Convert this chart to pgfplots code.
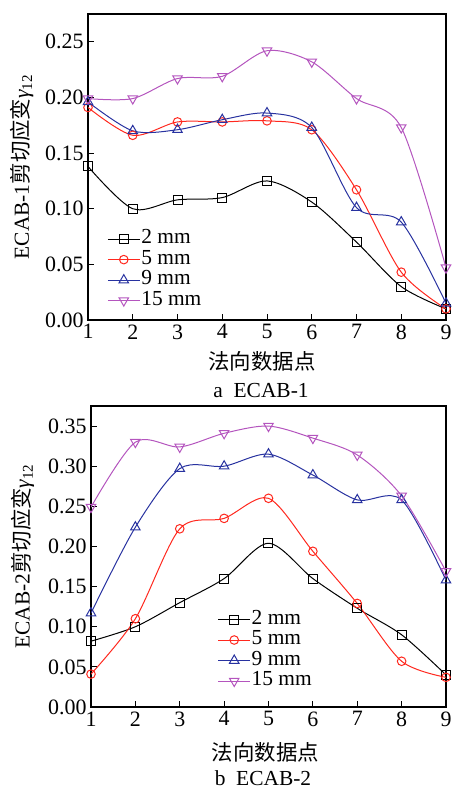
\documentclass[border=0pt]{standalone}
\usepackage{fontspec}
\setmainfont{Liberation Serif}
\newfontfamily\cjk{Noto Sans CJK SC}
\usepackage{pgfplots}
\pgfplotsset{compat=1.18}
\definecolor{cred}{RGB}{255,40,30}
\definecolor{cblue}{RGB}{40,50,160}
\definecolor{cpurp}{RGB}{180,85,190}
\newcommand{\bigf}{\fontsize{21.5}{25}\selectfont}
\newcommand{\tickf}{\fontsize{22}{25}\selectfont}
\pgfplotsset{myax/.style={
  scale only axis, xmin=1, xmax=9, ymin=0, xtick={1,2,...,9},
  tick align=inside, xtick pos=bottom, ytick pos=left, major tick length=6bp,
  axis line style={line width=1.2bp},
  every tick/.style={black, line width=1bp},
  tick label style={font=\tickf},
  xticklabel style={yshift=-1bp},
  label style={font=\bigf},
  /pgf/number format/assume math mode=true,
  yticklabel style={/pgf/number format/fixed, /pgf/number format/fixed zerofill, /pgf/number format/precision=2, xshift=-1bp},
  xlabel={\cjk 法向数据点},
  legend style={draw=none, fill=none, font=\bigf, anchor=north west, legend cell align=left,
    nodes={inner sep=1bp, text height=14bp, text depth=4.5bp}, row sep=0pt},
  legend image code/.code={\draw[mark repeat=2,mark phase=2] plot coordinates {(0bp,0bp) (16bp,0bp) (32bp,0bp)};},
  every axis plot/.append style={smooth, line width=1bp, mark options={fill=white, solid}},
}}
\begin{document}
\begin{tikzpicture}
\useasboundingbox (0,0) rectangle (452bp,-789bp);
\begin{axis}[myax, at={(88bp,-14bp)}, anchor=north west, width=358bp, height=306bp,
  ymax=0.275, ytick={0,0.05,0.10,0.15,0.20,0.25},
  ylabel={ECAB-1{\cjk 剪切应变}{\itshape γ}\textsubscript{12}},
  ylabel style={at={(axis description cs:-0.184,0.5)}, anchor=center},
  xlabel style={at={(axis description cs:0.5,0)}, anchor=center, yshift=-41bp, xshift=-5bp},
  legend style={at={(axis description cs:0.045,0.305)}}]
\addplot[black, mark=square, mark size=4.5bp] coordinates {(1,0.138) (2,0.100) (3,0.108) (4,0.110) (5,0.125) (6,0.106) (7,0.070) (8,0.030) (9,0.010)};
\addplot[cred, mark=o, mark size=4.3bp] coordinates {(1,0.191) (2,0.166) (3,0.178) (4,0.178) (5,0.179) (6,0.171) (7,0.117) (8,0.043) (9,0.010)};
\addplot[cblue, mark=triangle, mark size=5.5bp] coordinates {(1,0.196) (2,0.170) (3,0.171) (4,0.180) (5,0.186) (6,0.173) (7,0.101) (8,0.088) (9,0.015)};
\addplot[cpurp, mark=triangle, mark size=5.5bp, mark options={rotate=180, fill=white, solid}] coordinates {(1,0.199) (2,0.199) (3,0.217) (4,0.219) (5,0.242) (6,0.232) (7,0.199) (8,0.173) (9,0.047)};
\legend{2 mm, 5 mm, 9 mm, 15 mm}
\end{axis}
\node[font=\bigf] at (261bp,-391bp) {a\ \ ECAB-1};
\begin{axis}[myax, at={(91bp,-406bp)}, anchor=north west, width=355bp, height=301bp,
  ymax=0.375, ytick={0,0.05,0.10,0.15,0.20,0.25,0.30,0.35},
  ylabel={ECAB-2{\cjk 剪切应变}{\itshape γ}\textsubscript{12}},
  ylabel style={at={(axis description cs:-0.192,0.5)}, anchor=center},
  xlabel style={at={(axis description cs:0.5,0)}, anchor=center, yshift=-45bp, xshift=-3bp},
  legend style={at={(axis description cs:0.348,0.332)}}]
\addplot[black, mark=square, mark size=4.5bp] coordinates {(1,0.082) (2,0.100) (3,0.130) (4,0.160) (5,0.204) (6,0.160) (7,0.123) (8,0.090) (9,0.040)};
\addplot[cred, mark=o, mark size=4.3bp] coordinates {(1,0.041) (2,0.110) (3,0.222) (4,0.235) (5,0.260) (6,0.194) (7,0.129) (8,0.057) (9,0.037)};
\addplot[cblue, mark=triangle, mark size=5.5bp] coordinates {(1,0.117) (2,0.224) (3,0.297) (4,0.300) (5,0.315) (6,0.289) (7,0.258) (8,0.258) (9,0.158)};
\addplot[cpurp, mark=triangle, mark size=5.5bp, mark options={rotate=180, fill=white, solid}] coordinates {(1,0.249) (2,0.330) (3,0.324) (4,0.341) (5,0.350) (6,0.335) (7,0.314) (8,0.263) (9,0.169)};
\legend{2 mm, 5 mm, 9 mm, 15 mm}
\end{axis}
\node[font=\bigf] at (263bp,-778bp) {b\ \ ECAB-2};
\end{tikzpicture}
\end{document}
